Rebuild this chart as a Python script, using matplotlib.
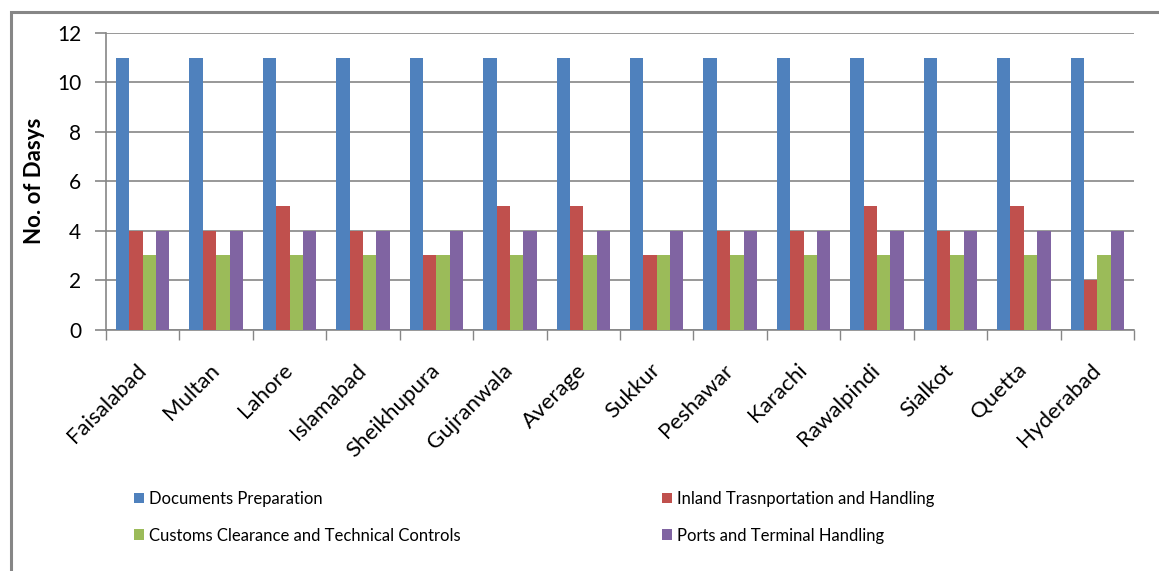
import matplotlib.pyplot as plt
import numpy as np
from matplotlib.patches import Rectangle

cities = ["Faisalabad", "Multan", "Lahore", "Islamabad", "Sheikhupura", "Gujranwala", "Average",
          "Sukkur", "Peshawar", "Karachi", "Rawalpindi", "Sialkot", "Quetta", "Hyderabad"]
documents = [11, 11, 11, 11, 11, 11, 11, 11, 11, 11, 11, 11, 11, 11]
inland = [4, 4, 5, 4, 3, 5, 5, 3, 4, 4, 5, 4, 5, 2]
customs = [3, 3, 3, 3, 3, 3, 3, 3, 3, 3, 3, 3, 3, 3]
ports = [4, 4, 4, 4, 4, 4, 4, 4, 4, 4, 4, 4, 4, 4]

series = [("Documents Preparation", documents, "#4F81BD"),
          ("Inland Trasnportation and Handling", inland, "#C0504D"),
          ("Customs Clearance and Technical Controls", customs, "#9BBB59"),
          ("Ports and Terminal Handling", ports, "#8064A2")]

plt.rcParams['font.family'] = ['Lato', 'DejaVu Sans']
grey = "#868686"

fig = plt.figure(figsize=(11.59, 5.71), dpi=100)
ax = fig.add_axes([0.0915, 0.4228, 0.8869, 0.5194])

x = np.arange(len(cities))
w = 0.182
bars = []
for i, (name, vals, col) in enumerate(series):
    b = ax.bar(x + (i - 1.5) * w, vals, w, color=col, label=name, zorder=3)
    bars.append(b)

ax.set_xlim(-0.5, len(cities) - 0.5)
ax.set_ylim(0, 12)
ax.set_yticks(range(0, 13, 2))
ax.yaxis.grid(True, color=grey, linewidth=1.2, zorder=0)
# category boundaries get the tick marks, names sit on the centres
ax.set_xticks(np.arange(len(cities) + 1) - 0.5, minor=False)
ax.set_xticklabels([])
ax.set_xticks(x, minor=True)
ax.set_xticklabels(cities, minor=True, rotation=45, ha='right', va='center',
                   rotation_mode='anchor', fontsize=16)
ax.tick_params(axis='x', which='minor', length=0, pad=27)
ax.tick_params(axis='x', which='major', length=7, color=grey, width=1)
ax.tick_params(axis='y', length=8, color=grey, width=1.2, labelsize=15, pad=10)
for s in ['top', 'right']:
    ax.spines[s].set_visible(False)
for s in ['left', 'bottom']:
    ax.spines[s].set_color(grey)
    ax.spines[s].set_linewidth(1.2)
ax.set_ylabel("No. of Dasys", fontsize=16, fontweight='bold')
ax.yaxis.set_label_coords(-0.059, 0.5)

handles = [bars[0], bars[2], bars[1], bars[3]]
labels = [series[0][0], series[2][0], series[1][0], series[3][0]]
fig.legend(handles, labels, ncol=2, loc='upper left', bbox_to_anchor=(0.108, 0.155),
           bbox_transform=fig.transFigure, frameon=False, fontsize=12,
           handlelength=0.6, handleheight=0.6, handletextpad=0.3,
           columnspacing=12.1, labelspacing=1.25, borderpad=0)

# outer chart border
fig.patches.append(Rectangle((11 / 1159, -0.1), 1.2, 1 - 12 / 571 + 0.1, transform=fig.transFigure,
                             fill=False, edgecolor=grey, linewidth=2.2))

fig.savefig("out.png", dpi=100)
